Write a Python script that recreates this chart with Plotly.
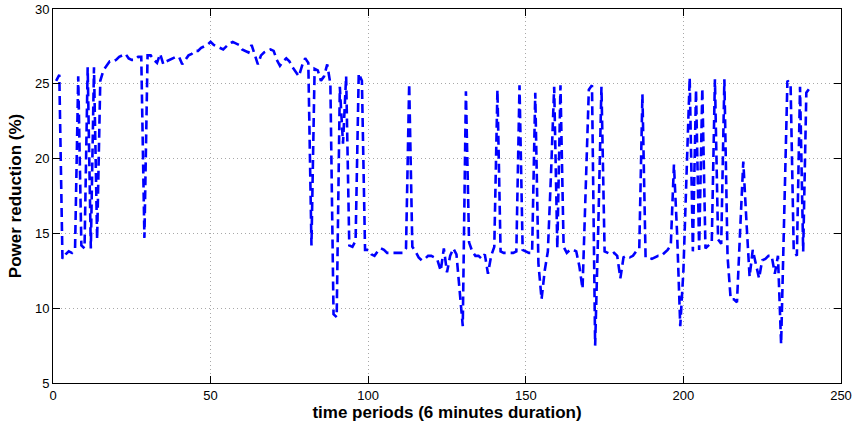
import plotly.graph_objects as go

periods = list(range(1, 241))
power_reduction = [
    25.2, 25.6, 13.3, 13.6, 13.8, 13.7, 14.0, 25.5, 14.2, 14.0,
    26.1, 14.0, 26.1, 14.6, 25.2, 25.9, 26.2, 26.5, 26.5, 26.6,
    26.8, 26.9, 27.0, 26.7, 26.6, 26.6, 26.8, 26.8, 14.7, 26.9,
    26.9, 26.6, 26.4, 27.0, 26.3, 26.5, 26.6, 26.7, 26.8, 26.8,
    26.3, 26.6, 26.9, 27.0, 27.2, 27.2, 27.4, 27.5, 27.6, 27.8,
    27.6, 27.5, 27.4, 27.3, 27.5, 27.7, 27.8, 27.7, 27.6, 27.3,
    27.2, 27.1, 27.6, 26.9, 26.3, 26.9, 27.1, 27.2, 27.3, 27.2,
    26.6, 26.2, 26.5, 26.7, 26.5, 26.1, 25.8, 25.5, 26.2, 26.7,
    26.4, 14.2, 26.0, 25.9, 25.2, 25.5, 26.3, 25.0, 9.6, 9.4,
    24.8, 21.0, 25.5, 14.2, 14.1, 14.5, 25.7, 25.2, 13.9, 13.9,
    13.6, 13.5, 13.8, 14.0, 13.9, 13.7, 13.7, 13.7, 13.7, 13.7,
    13.7, 14.0, 25.0, 14.1, 13.8, 13.4, 13.2, 13.3, 13.5, 13.5,
    13.4, 13.2, 12.5, 14.0, 12.4, 13.5, 14.0, 13.6, 11.0, 8.8,
    24.5, 14.4, 13.8, 13.5, 13.5, 13.3, 13.6, 12.3, 13.5, 14.1,
    24.6, 13.8, 13.7, 13.7, 13.7, 13.7, 13.8, 24.9, 13.9, 13.8,
    13.7, 13.7, 24.4, 13.0, 10.6, 12.5, 13.8, 19.0, 24.8, 14.0,
    24.9, 14.1, 13.7, 13.9, 13.9, 13.8, 12.8, 11.3, 17.5, 24.6,
    24.9, 7.5, 15.5, 24.8, 13.8, 13.7, 13.6, 13.7, 13.5, 12.0,
    13.4, 13.5, 13.4, 13.5, 13.8, 14.0, 24.3, 13.4, 13.4, 13.3,
    13.4, 13.5, 13.5, 13.7, 13.9, 14.2, 19.6, 15.0, 8.8, 12.5,
    19.0, 25.4, 13.8, 24.6, 13.9, 24.7, 14.0, 14.2, 14.4, 25.3,
    14.6, 14.3, 25.3, 13.5, 10.6, 10.6, 10.4, 15.2, 19.8, 15.8,
    12.1, 13.9, 13.0, 12.0, 13.2, 13.3, 13.5, 13.5, 12.3, 13.5,
    7.6, 17.0, 25.2, 25.0, 13.9, 13.5, 24.8, 13.8, 24.4, 24.7,
]

x_ticks = [0, 50, 100, 150, 200, 250]
y_ticks = [5, 10, 15, 20, 25, 30]

FONT = "Liberation Sans, Arial, sans-serif"

fig = go.Figure()
fig.add_trace(go.Scatter(
    x=periods, y=power_reduction, mode="lines",
    line=dict(color="#0000FF", width=2.6, dash="9px,5px"),
    showlegend=False,
))

axis_common = dict(
    showline=True, linecolor="black", linewidth=1, mirror="ticks",
    ticks="inside", ticklen=7, tickcolor="black",
    showgrid=True, gridcolor="#a8a8a8", gridwidth=1, griddash="1px,3px",
    zeroline=False, automargin=False,
    tickfont=dict(family=FONT, size=13, color="black"),
)

fig.update_layout(
    width=853, height=425,
    margin=dict(l=53, r=12, t=9, b=42),
    paper_bgcolor="white", plot_bgcolor="white",
    xaxis=dict(range=[0, 250], tickvals=x_ticks,
               title=dict(text="<b>time periods (6 minutes duration)</b>",
                          font=dict(family=FONT, size=17, color="black"),
                          standoff=2),
               **axis_common),
    yaxis=dict(range=[5, 30], tickvals=y_ticks,
               title=dict(text="<b>Power reduction (%)</b>",
                          font=dict(family=FONT, size=17, color="black"),
                          standoff=8),
               **axis_common),
)

fig.write_html("out.html",
               config={"displayModeBar": False},
               post_script="document.body.style.margin='0';document.body.style.overflow='hidden';")
